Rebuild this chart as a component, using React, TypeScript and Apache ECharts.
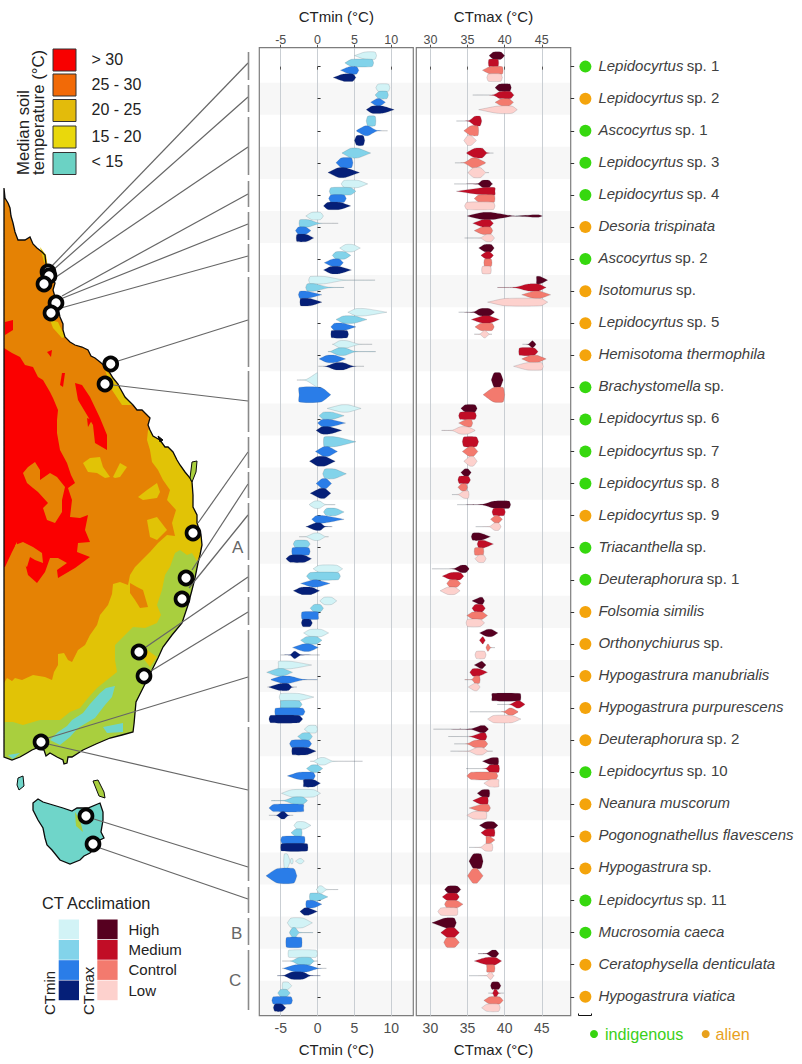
import React, { useEffect, useRef } from "react";
import * as echarts from "echarts";

type V = number[] | number[][] | null;

const speciesItalic = ["Lepidocyrtus","Lepidocyrtus","Ascocyrtus","Lepidocyrtus","Lepidocyrtus","Desoria trispinata","Ascocyrtus","Isotomurus","Lepidocyrtus","Hemisotoma thermophila","Brachystomella","Lepidocyrtus","Lepidocyrtus","Lepidocyrtus","Lepidocyrtus","Triacanthella","Deuteraphorura","Folsomia similis","Orthonychiurus","Hypogastrura manubrialis","Hypogastrura purpurescens","Deuteraphorura","Lepidocyrtus","Neanura muscorum","Pogonognathellus flavescens","Hypogastrura","Lepidocyrtus","Mucrosomia caeca","Ceratophysella denticulata","Hypogastrura viatica"];
const speciesPlain = ["sp. 1","sp. 2","sp. 1","sp. 3","sp. 4","","sp. 2","sp.","sp. 5","","sp.","sp. 6","sp. 7","sp. 8","sp. 9","sp.","sp. 1","","sp.","","","sp. 2","sp. 10","","","sp.","sp. 11","","",""];
const origin = ["g","o","g","g","g","o","g","o","o","o","g","g","g","g","o","g","g","o","o","o","o","o","g","o","o","o","g","g","o","o"];
const rows = speciesItalic.map((_, i) => i);

// Violin outlines: [tail, flatStart, flatEnd, tail] or [tail, shoulder, flatStart, flatEnd, shoulder, tail]
const ctminHigh: V[] = [[5,6.4,7.8,8],[7.9,8.2,9.6,9.8],null,null,[3.2,3.6,5.5,6.8],[-1.6,-0.8,0.4,0.8],[3,3.8,4.8,5.8],[-1.2,-1.2,-1,1,3.5,7.8],[4.1,5.2,6.5,9.4],[2,2.2,3,4,5.5,7.4],[-2.8,-1.5,-0.1,0,0,0],[1.3,3.2,4.2,5.9],null,null,[-1.1,-1.1,-0.4,0.3,1,2.4],[-2.5,-1.5,-0.5,0.2,1,1.5],[-0.6,0.2,2.6,3.4],[0.3,0.9,1.9,2.6],[-1.9,-1,0.5,1.5],[-5.3,-5.3,-3.5,-0.8],[-5.2,-5,-2.5,-0.5],[-1.8,-1.2,-0.2,0],[-1,-0.5,0.3,1,2,6.1],[-4.9,-3.5,-0.5,0.4],[-3.2,-2.8,-1.8,-0.9],[[-4.6,-4.5,-4.1,-3.7],[-3.7,-3.6,-3.4,-3.3],[-3,-2.5,-2.2,-1.8]],[-0.2,-0.1,0.2,0.6,1.2,2.8],[-4.1,-3.6,-2,-0.7],[-4,-3.9,-0.2,0],[-4.8,-4.7,-4,-3.5]];
const ctminMedium: V[] = [[3.7,4.6,7.4,7.6],[7.8,8.3,9.4,9.6],[6.6,6.8,7.8,7.9],[3.3,4.5,5.5,7.2],[1.6,1.8,4.5,5.2],[-2.5,-2.5,-2.4,-1.2,0.2,2.8],[2,2.5,3.7,4.5],[-1.6,-1.6,-1.4,-0.3,1.5,3.6],[2.5,3.5,5,6.7],[1.4,1.8,2.8,3.8,5,7.9],null,[0.2,0.8,2,3.6],[0.8,0.9,2.5,5.2],[0.7,1,2.3,3.9],[0.8,1.2,2.5,3.6],[-3.3,-3,-1.4,-1],[-1.5,-1,2.8,3.1],[-1,-0.5,0.4,0.8],[-2.3,-1.5,-0.1,0.6],[-6.9,-5.5,-4.6,-3.4],[-5,-5,-2.5,-2.1],[-2.7,-2,-1.1,-0.7],[-1.5,-0.8,0,0.7],[-6.3,-4.5,-3.2,-2,-1.4,-1.4],[-3.6,-3,-2.2,-2.1],null,[-1.1,-1,0.2,1.4],[-3.8,-3.8,-3.4,-3,-2.5,-0.6],[-4.8,-3.5,-2.5,-1,-0.5,0],[-5.4,-5,-4.2,-3.7]];
const ctminControl: V[] = [[3.1,4.3,5.3,5.6],[7.2,8,8.5,9.2],[5.3,5.3,6.4,6.9,8,9.5],[2.5,3.2,4.6,4.8],[1.5,1.8,3.6,3.9],[-3,-2.6,-1.6,-0.9],[0.9,2,3,3.5],[-2.6,-2.4,-1.4,0.6],[1.8,2.3,3.5,5.2],[0.2,1.3,2.4,3.8],[-2.5,-2.5,0.5,1.8],[0,0.6,1.8,3.8],[-0.3,0.8,1.5,2.7],[-0.2,0.6,1.2,1.9],[-0.8,-0.2,1,3.6],[-3.5,-3.4,-1.2,-1],[-2.3,-0.7,0,1.7],[-2.2,-2.1,0.1,0.1],[-3.4,-2,-1,0.1],[-6.3,-6.3,-4.8,-3.8,-2,0],[-5.8,-5.7,-2,-1.7],[-3.8,-3.5,-1.2,-0.8],[-4.1,-2.5,-0.6,-0.3],[-6.6,-6,-1.9,-1.9],[-5,-4.8,-1.8,-1.7],[-7,-5.5,-3.2,-2.8],[-1.6,-1.5,-0.5,0.6],[-4.3,-4.2,-2.2,-2.1],[-4.8,-4.5,-3,-1.5,0,1.2],[-6.2,-6,-3.6,-3.4]];
const ctminLow: V[] = [[2.1,3.5,4.8,5.2],[6.6,7.4,8.8,10.4],[5,5.3,6.2,6.4],[1.4,2.8,3.8,5.7],[0.8,1.4,3,4.5],[-2.9,-2.8,-1.5,-0.5],[0.8,1.8,3,4.6],[-2.4,-2.3,-1,0.6],[1.8,1.9,4,4.2],[0.1,1.2,2.5,3.5,4.8,6.3],null,[-0.2,0.6,1.6,3.3],[-1.1,0,1,2.4],[-1,0.3,1,1.8],[-1.6,-1.4,-0.3,0.4,1,2],[-4.3,-3.7,-1.8,-0.8],[-3.3,-2.2,-0.8,0.3],[-2.2,-2,-1,-0.7],[-5,-3.7,-3.2,-3,-2.3,0.3],[-6.8,-6.5,-5,-4,-3.5,-2.8],[-6.6,-6.4,-2.5,-2],[-3.5,-3.4,-1.5,-0.2],[-1.9,-1.9,-0.5,0.4],[-6.6,-5.5,-4.9,-4.5,-4,-3.3],[-5,-4.9,-1.4,-1.3],null,[-2.4,-1.8,-1.2,0],null,[-5.5,-4.5,-3.5,-2,-1,0.4],[-6,-5.8,-4.8,-4.3]];

const ctmaxHigh: V[] = [[37.9,38.5,39.5,40],[38.7,39.3,40.7,40.9],null,null,[33.2,36.4,37,37.9,38.3,38.4],[[35,35,37,38.3,41,43],[41.5,44,44.6,45.1]],[36.5,37.3,38.2,38.6],[44.3,44.3,44.8,45.8],[33.8,35.8,36.7,38,38.6,38.6],[42.4,43.2,43.7,43.8,44.2,44.2],[38.2,38.6,39.4,39.8],[34.1,34.7,36,36.3],null,[34.1,34.6,35.1,35.5],[33.6,37,38.6,40.6,40.8,40.8],[35.5,35.7,36.8,38.1],[30.2,33.2,34.1,34.8,35.2,35.2],[35.6,36.7,37,37.3],[36.6,37.6,38.3,39.1],[35.9,36.8,37,37.5],[38.3,38.3,42.1,42.2],[30.4,35.5,36.8,37.3,37.8,37.8],[37,38.2,39.1,39.2],[36.3,37,37.9,38],[36.6,37.5,38.5,39.1],[35.2,35.8,36.8,37.1],[31.9,32.4,33.6,34.1],[30.2,32,33.2,33.5],[36.4,37.6,38.3,38.8,39.2,39.2],[38.1,38.3,39.2,39.5]];
const ctmaxMedium: V[] = [[37.8,37.9,39.1,39.2],[35.7,38.5,39.4,40.8,41.2,41.3],[33.5,35.2,36,36.7,36.9,36.9],[34.9,34.9,36,37,37.6,38.5],[33.5,37,38.7,38.7],[35.7,37,38,38.5],[36.8,37.5,38,38.5],[39,41.4,43.2,44.6,45.5,45.6],[35.5,37,38,39.3],[41.9,42,44,44.5],null,[33.8,34,36,36.2],[34.3,34.5,36.2,36.5],[33.7,33.9,35.1,35.4],[38.3,38.5,39.9,40.1],[36.3,36.5,37.3,38.5],[31.6,32.8,34,34.5],[35.6,36,37,37.4],[36.6,37,37.1,37.4],[35.3,35.7,36.6,37.7],[39,40.8,41.6,42,42.7,42.7],[32.4,35.5,36.8,37.4,37.6,37.6],[34.8,37.5,38,39.2,39.3,39.3],[35.7,36.8,37.7,37.8],[36.8,37.5,38.6,38.7],null,[31.6,32.3,33.5,33.9],[31.4,32.3,33.2,33.9],[35.9,37.5,38.8,39.6],[37.8,38.4,38.6,38.9,39.2,39.9]];
const ctmaxControl: V[] = [[37,38,39.7,39.8],[38.7,39.6,40.6,41.2],[34.5,35.4,36.4,36.5],[33.3,34.6,35.6,36.2,37.4,37.4],[35.9,36.5,38.6,38.7],[35.9,37,38.1,38.4],[37.2,37.3,38.2,38.3],[42.3,43.9,44.8,46.2],[36,36.8,38.3,38.6],[42.3,43.5,44.4,45.6],[37.1,38.5,39.8,40],[33.8,34.8,35.5,35.7],[34.3,35.2,35.8,36.4],[33.7,34.2,34.8,35],[38.1,38.7,39.2,39.7],[35.9,36,37.1,37.2],[32.2,32.6,33.6,34.1],[34.9,35.7,37,37.7],[37.5,37.5,37.7,37.8,38.1,38.7],[34.6,35.6,36,36.6,36.7,36.7],[35.3,39.9,40.6,41,41.8,41.8],[33.2,35,36,37.3,37.7,37.7],[34.9,35.5,38.8,39.1],[35.2,36.8,37.8,38.1],[37.5,37.5,38,38.7],[35,35.7,36.3,37.1],[31.9,32.2,33.6,34.4],[31.8,32.2,33.3,33.9],[37.6,37.6,38.6,38.7],[37.2,38,39.3,39.8]];
const ctmaxLow: V[] = [[37.6,37.8,39.5,39.7],[36.5,39,41,41.7],[34.5,35,35.5,36.2],[35.1,35.1,35.8,36.8,37.4,37.9],[34.6,34.9,38.5,38.7],[34.6,36.8,37.5,38.2,38.6,38.6],[36.9,37,38.1,38.2],[37.7,40,44.9,45.8],[35.9,36.7,37.2,37.4,37.9,38.3],[41.2,43,45,45.2],null,[31.5,33,34,35,36,36],[34.5,35.3,35.8,36.3],[32.9,33.8,34.5,35.1,35.2,35.2],[36.1,38,38.6,39.2,39.5,39.5],[36,36.5,37.2,37.5],[31.3,32.3,33.3,34],[34.8,35,36.7,37.3],[36,36.2,37.3,37.5],[35.1,35.9,36.3,36.7],[37.7,38.5,41,42.2],[32.7,35.2,36.2,37,37.7,38.4],[37.2,38,39.2,39.2],[34.9,35.8,37.5,37.6],[35.2,36.8,37.4,38.3,38.4,38.4],null,[31,31.4,33.6,33.7],null,[35.2,37.6,38,38.2,38.5,38.6],[36.9,37.6,39.2,39.4]];

const ctminTicks = [-5, 0, 5, 10];
const ctmaxTicks = [30, 35, 40, 45];
const ctminColors = ["#d2f3f6", "#82d3ea", "#2a7de8", "#051f78"];
const ctmaxColors = ["#560020", "#c10d26", "#f37a6e", "#fdd1cd"];
const legendLevels = ["High", "Medium", "Control", "Low"];
const soilColors = ["#f80000", "#f26a07", "#e3bb0b", "#e9d80c", "#6bd2c4"];
const soilLabels = ["> 30", "25 - 30", "20 - 25", "15 - 20", "< 15"];

// Map geometry (decoration, page pixels)
const coast = [[4,188],[5,198],[8,203],[10,208],[11,216],[13,223],[15,232],[18,240],[25,240],[30,237],[33,244],[37,248],[42,252],[45,255],[46,264],[48,270],[52,277],[55,283],[53,290],[55,297],[58,308],[60,317],[63,324],[63,330],[65,337],[70,342],[75,345],[82,347],[88,350],[91,356],[95,358],[100,362],[107,368],[113,378],[118,384],[120,388],[125,397],[130,402],[133,405],[137,410],[142,410],[146,414],[150,418],[148,425],[150,430],[153,436],[160,440],[165,447],[168,447],[173,452],[177,460],[180,465],[185,472],[190,478],[192,482],[193,495],[193,507],[197,515],[197,523],[201,535],[202,545],[200,555],[198,563],[195,578],[192,590],[188,605],[182,623],[172,635],[163,647],[158,658],[152,670],[147,680],[142,690],[136,702],[135,713],[134,724],[133,732],[122,735],[110,738],[96,744],[83,750],[72,757],[68,757],[67,763],[64,764],[63,760],[57,757],[50,753],[46,756],[44,750],[37,748],[32,750],[27,753],[20,757],[12,760],[4,757]];
const idx = (x: number, y: number) => coast.findIndex((p) => p[0] === x && p[1] === y);
const goldZone = [[4,683],[7,678],[12,681],[15,678],[22,680],[33,675],[45,677],[52,680],[54,672],[58,665],[58,654],[64,653],[68,660],[72,662],[78,650],[85,645],[90,635],[97,625],[100,615],[108,605],[112,594],[113,584],[120,582],[128,585],[130,575],[135,567],[142,560],[150,552],[158,543],[167,535],[175,536],[172,523],[176,510],[167,500],[170,490],[163,480],[158,470],[152,462],[150,450],[147,440],[148,430],...coast.slice(idx(150,430))];
const greenZone = [[4,722],[13,722],[23,725],[40,720],[60,720],[70,712],[80,708],[88,698],[97,688],[107,680],[117,672],[115,660],[115,645],[125,635],[133,627],[145,628],[157,623],[161,615],[157,605],[162,590],[165,575],[170,567],[175,553],[180,550],[187,555],[192,553],[198,563],...coast.slice(idx(198,563))];
const redZone = [[4,348],[12,353],[20,357],[25,365],[33,367],[38,377],[43,380],[50,392],[53,398],[58,410],[57,420],[57,433],[60,450],[67,463],[71,475],[75,483],[68,488],[72,500],[70,517],[80,518],[88,515],[85,530],[90,542],[78,543],[77,552],[90,557],[75,568],[58,578],[57,570],[67,563],[58,558],[50,558],[45,572],[37,583],[28,575],[25,563],[17,553],[17,542],[12,552],[5,567],[4,567]];
const orangeBits = [
  [[23,473],[28,467],[35,462],[40,470],[40,480],[50,473],[57,477],[65,487],[62,500],[62,512],[55,523],[47,520],[43,508],[48,503],[38,492],[33,488],[27,483]],
  [[15,545],[23,542],[33,547],[42,553],[43,563],[35,560],[30,557],[27,567],[18,560]],
  [[130,583],[137,587],[143,590],[148,607],[140,608],[135,600],[130,593]],
];
const goldBits = [
  [[40,247],[46,255],[48,268],[44,262]],
  [[50,320],[58,322],[65,337],[62,338],[53,328]],
  [[105,370],[113,378],[125,397],[133,405],[122,405],[112,390]],
  [[83,463],[90,458],[100,457],[103,467],[110,477],[105,478],[97,473],[88,472]],
  [[113,477],[120,463],[127,467],[120,477],[115,478]],
  [[138,497],[147,490],[157,483],[160,492],[157,498],[143,500]],
  [[147,520],[157,517],[167,530],[157,540],[150,537]],
];
const tealZones = [
  [[50,740],[58,732],[67,726],[72,720],[83,713],[90,704],[100,693],[106,688],[115,686],[112,697],[105,705],[95,718],[88,722],[78,728],[70,737],[60,745]],
  [[103,727],[113,725],[123,723],[123,732],[107,733]],
  [[8,755],[20,753],[13,759]],
];
const redBits = [
  [[5,322],[13,320],[13,330],[5,335]],
  [[47,352],[52,350],[51,357]],
  [[62,373],[65,373],[63,387],[60,385]],
  [[75,383],[82,385],[90,397],[100,418],[107,435],[107,450],[95,443],[93,425],[78,400]],
  [[87,418],[92,420],[88,427]],
];
const tasmania = [[33,803],[38,799],[43,802],[53,805],[63,808],[72,811],[77,808],[88,808],[100,803],[103,812],[103,820],[101,832],[104,838],[100,840],[95,848],[90,853],[84,856],[80,860],[70,864],[60,860],[52,850],[47,845],[45,838],[43,828],[38,820],[33,810]];
const islands = [[[18,778],[23,776],[24,786],[19,790],[17,785]],[[93,781],[98,780],[104,792],[105,798],[99,796]],[[192,462],[197,461],[196,472],[192,482],[190,478]],[[158,436],[163,440],[160,442]]];
const markers = [[48,272],[49,276],[44,284],[56,303],[51,313],[110.7,364],[105,384],[193,533],[186,578],[182,599],[139,652],[144,676],[41,742],[86,816],[93,844]];
const leaders = [[50,268,248,63],[52,271,248,97],[56,277,248,147],[62,296,248,194],[63,298,248,224],[61,308,248,256],[118,361,248,320],[113,385,248,401],[198,523,248,452],[192,570,248,484],[189,588,248,515],[146,647,248,577],[151,671,248,612],[48,738,248,677],[48,744,248,790],[94,819,248,867],[100,848,248,899]];
const brackets = [[52,80],[85,112],[117,175],[181,207],[212,240],[244,272],[277,367],[371,432],[437,468],[472,498],[503,560],[565,592],[597,625],[630,722],[727,881],[887,913],[918,945],[950,1010]];

const F = '"Liberation Sans", Arial, sans-serif';
const poly = (points: number[][], fill: string, extra: any = {}) => ({ type: "polygon", shape: { points }, style: { fill, stroke: extra.stroke || "none", lineWidth: extra.lw || 0 }, silent: true });
const txt = (x: number, y: number, text: string, size: number, fill = "#222", rot = 0, align = "left") => ({ type: "text", x, y, rotation: rot, silent: true, style: { text, fill, font: `${size}px ${F}`, align, verticalAlign: "middle" } });

function buildGraphic() {
  const g: any[] = [];
  g.push(poly(coast, "#e58204"));
  g.push(poly(redZone, "#fb0000"));
  orangeBits.forEach((p) => g.push(poly(p, "#e58204")));
  redBits.forEach((p) => g.push(poly(p, "#fb0000")));
  g.push(poly(goldZone, "#e1c306"));
  orangeBits.slice(2).forEach((p) => g.push(poly(p, "#e58204")));
  goldBits.forEach((p) => g.push(poly(p, "#e1c306")));
  g.push(poly(greenZone, "#a9cf3e"));
  g.push(poly([[143,647],[157,657],[150,667],[143,658]], "#e1c306"));
  tealZones.forEach((p) => g.push(poly(p, "#6fd5c9")));
  g.push(poly(coast, "none", { stroke: "#0a0a0a", lw: 1.3 }));
  g.push(poly(tasmania, "#6fd5c9", { stroke: "#0a0a0a", lw: 1.3 }));
  g.push(poly([[75,812],[80,820],[83,832],[76,826]], "#a9cf3e"));
  islands.forEach((p, i) => g.push(poly(p, i === 3 ? "#0a0a0a" : i === 0 ? "#6fd5c9" : "#a9cf3e", { stroke: "#0a0a0a", lw: 1 })));
  leaders.forEach((l) => g.push({ type: "line", silent: true, shape: { x1: l[0], y1: l[1], x2: l[2], y2: l[3] }, style: { stroke: "#666", lineWidth: 1.2 } }));
  brackets.forEach((b) => g.push({ type: "line", silent: true, shape: { x1: 248.5, y1: b[0], x2: 248.5, y2: b[1] }, style: { stroke: "#8a8a8a", lineWidth: 1.6 } }));
  markers.forEach((m) => g.push({ type: "circle", silent: true, shape: { cx: m[0], cy: m[1], r: 6.5 }, style: { fill: "#fff", stroke: "#050505", lineWidth: 3.7 } }));
  g.push(txt(232, 547, "A", 17, "#666"), txt(231, 933, "B", 17, "#666"), txt(229, 980, "C", 17, "#666"));
  const sy = [49, 74, 99.5, 126, 152.5];
  soilColors.forEach((c, i) => {
    g.push({ type: "rect", silent: true, shape: { x: 53, y: sy[i], width: 23, height: 22 }, style: { fill: c, stroke: "#333", lineWidth: 1 } });
    g.push(txt(91.5, sy[i] + 10 - (i === 4 ? 1 : 0), soilLabels[i], 16, "#222"));
  });
  g.push(txt(23, 175, "Median soil", 16.8, "#222", Math.PI / 2), txt(38, 175, "temperature (°C)", 16.8, "#222", Math.PI / 2));
  g.push(txt(42, 903, "CT Acclimation", 16.3, "#222"));
  const ly = [919.5, 940, 960.2, 980.5];
  legendLevels.forEach((l, i) => {
    g.push({ type: "rect", silent: true, shape: { x: 58.7, y: ly[i], width: 20.3, height: 19.7 }, style: { fill: ctminColors[i] } });
    g.push({ type: "rect", silent: true, shape: { x: 97.3, y: ly[i], width: 20.3, height: 19.7 }, style: { fill: ctmaxColors[i] } });
    g.push(txt(128.5, ly[i] + 9.5, l, 15, "#222"));
  });
  g.push(txt(49, 1015, "CTmin", 15, "#222", Math.PI / 2), txt(88.5, 1015, "CTmax", 15, "#222", Math.PI / 2));
  g.push({ type: "polyline", silent: true, shape: { points: [[578.5, 1013.5], [578.5, 1015.5], [591.5, 1015.5], [591.5, 1013.5]] }, style: { stroke: "#111", lineWidth: 1, fill: "none" } });
  g.push({ type: "circle", silent: true, shape: { cx: 594, cy: 1034, r: 4 }, style: { fill: "#36d40f" } });
  g.push(txt(605, 1034, "indigenous", 16.2, "#3ccf19"));
  g.push({ type: "circle", silent: true, shape: { cx: 705.7, cy: 1034, r: 4 }, style: { fill: "#e8a11d" } });
  g.push(txt(715.5, 1034, "alien", 16.2, "#e8a11d"));
  return g;
}

const yMin = -0.59, yMax = 29.59;

function violinSeries(name: string, grid: number, values: V[], all: V[][], color: string) {
  const data = rows.filter((r) => values[r]).map((r) => [r]);
  return {
    type: "custom", name, xAxisIndex: grid * 2, yAxisIndex: grid, data, z: 3, silent: true,
    encode: { y: 0 },
    renderItem: (_: any, api: any) => {
      const r = api.value(0) as number;
      const present = all.filter((a) => a[r]);
      const n = present.length;
      const slot = present.indexOf(values);
      const pitch = 0.914 / n;
      const cy = r + (slot - (n - 1) / 2) * pitch;
      const rowPx = api.size([0, 1])[1];
      const h = pitch * 0.49 * rowPx;
      const yc = api.coord([0, cy])[1];
      const v = values[r] as any;
      const lobes: number[][] = Array.isArray(v[0]) ? v : [v];
      const children = lobes.map((l, li) => {
        const hh = li === 0 ? h : h * 0.35;
        const X = (t: number) => api.coord([t, cy])[0];
        const prof: [number, number][] = l.length === 4
          ? [[l[0], 0], [l[1], hh], [l[2], hh], [l[3], 0]]
          : [[l[0], 0], [l[1], hh * 0.1], [l[2], hh], [l[3], hh], [l[4], hh * 0.1], [l[5], 0]];
        const top = prof.map((p) => [X(p[0]), yc - p[1]]);
        const bottom = prof.slice().reverse().map((p) => [X(p[0]), yc + p[1]]);
        return { type: "polygon", shape: { points: [...top, ...bottom], smooth: 0.2 }, style: { fill: color, stroke: "rgba(70,80,90,0.45)", lineWidth: 0.4 } };
      });
      return { type: "group", children };
    },
  };
}

function bandSeries(grid: number, xMin: number, xMax: number) {
  return {
    type: "custom", xAxisIndex: grid * 2, yAxisIndex: grid, z: -1, silent: true,
    data: rows.filter((r) => r % 2 === 1).map((r) => [r]),
    encode: { y: 0 },
    renderItem: (_: any, api: any) => {
      const r = api.value(0) as number;
      const a = api.coord([xMin, r - 0.5]);
      const b = api.coord([xMax, r === 29 ? yMax : r + 0.5]);
      return { type: "rect", shape: { x: a[0], y: a[1], width: b[0] - a[0], height: b[1] - a[1] }, style: { fill: "#f7f7f7" } };
    },
  };
}

function xAxes(grid: number, min: number, max: number, ticks: number[], name: string) {
  const common = {
    gridIndex: grid, type: "value", min, max, name, nameLocation: "middle",
    nameTextStyle: { fontFamily: F, color: "#222" },
    axisLine: { show: false },
    axisTick: { length: 3, customValues: ticks, lineStyle: { color: "#555" } },
  };
  return [
    { ...common, position: "bottom", nameGap: 26, nameTextStyle: { ...common.nameTextStyle, fontSize: 15 },
      axisLabel: { customValues: ticks, fontFamily: F, color: "#4d4d4d", fontSize: 14, margin: 5 },
      splitLine: { show: true, lineStyle: { color: "#c9ced3", width: 1 } } },
    { ...common, position: "top", nameGap: 24, nameTextStyle: { ...common.nameTextStyle, fontSize: 15 },
      axisLabel: { customValues: ticks, fontFamily: F, color: "#4d4d4d", fontSize: 12.5, margin: 1 },
      splitLine: { show: false } },
  ];
}

export default function App() {
  const ref = useRef<HTMLDivElement>(null);
  useEffect(() => {
    const chart = echarts.init(ref.current!, undefined, { renderer: "svg" });
    const minAll = [ctminHigh, ctminMedium, ctminControl, ctminLow];
    const maxAll = [ctmaxHigh, ctmaxMedium, ctmaxControl, ctmaxLow];
    const labelRich: any = {
      g: { width: 12, height: 12, borderRadius: 6, backgroundColor: "#36d80f" },
      o: { width: 12, height: 12, borderRadius: 6, backgroundColor: "#f4a40c" },
      s: { width: 7 },
      i: { fontStyle: "italic", fontFamily: F, fontSize: 15, color: "#404040", padding: [0, 0, 3, 0] },
      r: { fontFamily: F, fontSize: 15, color: "#404040", padding: [0, 0, 3, 0] },
    };
    chart.setOption({
      animation: false,
      graphic: { elements: buildGraphic() },
      grid: [
        { left: 259.3, top: 47.7, width: 154, height: 968, show: true, borderColor: "#7d7d7d", borderWidth: 1.2, backgroundColor: "transparent", containLabel: false },
        { left: 416.3, top: 47.7, width: 154.4, height: 968, show: true, borderColor: "#7d7d7d", borderWidth: 1.2, backgroundColor: "transparent", containLabel: false },
      ],
      xAxis: [...xAxes(0, -7.9, 12.98, ctminTicks, "CTmin (°C)"), ...xAxes(1, 28.1, 48.9, ctmaxTicks, "CTmax (°C)")],
      yAxis: [0, 1].map((g) => ({
        gridIndex: g, type: "value", inverse: true, min: yMin, max: yMax, position: "right",
        axisLine: { show: false }, splitLine: { show: false },
        axisTick: { show: true, length: g === 0 ? 3 : 3.5, customValues: rows, lineStyle: { color: "#333" } },
        axisLabel: g === 0 ? { show: false } : {
          show: true, customValues: rows, margin: 8.7,
          formatter: (v: number) => {
            const r = Math.round(v);
            return `{${origin[r]}|}{s|}{i|${speciesItalic[r]}}${speciesPlain[r] ? ` {r|${speciesPlain[r]}}` : ""}`;
          },
          rich: labelRich,
        },
      })),
      series: [
        bandSeries(0, -7.9, 12.98),
        bandSeries(1, 28.1, 48.9),
        violinSeries("CTmin High", 0, ctminHigh, minAll, ctminColors[0]),
        violinSeries("CTmin Medium", 0, ctminMedium, minAll, ctminColors[1]),
        violinSeries("CTmin Control", 0, ctminControl, minAll, ctminColors[2]),
        violinSeries("CTmin Low", 0, ctminLow, minAll, ctminColors[3]),
        violinSeries("CTmax High", 1, ctmaxHigh, maxAll, ctmaxColors[0]),
        violinSeries("CTmax Medium", 1, ctmaxMedium, maxAll, ctmaxColors[1]),
        violinSeries("CTmax Control", 1, ctmaxControl, maxAll, ctmaxColors[2]),
        violinSeries("CTmax Low", 1, ctmaxLow, maxAll, ctmaxColors[3]),
      ],
    });
    return () => chart.dispose();
  }, []);
  return <div ref={ref} style={{ position: "fixed", left: 0, top: 0, width: 802, height: 1064, background: "#fff" }} />;
}
